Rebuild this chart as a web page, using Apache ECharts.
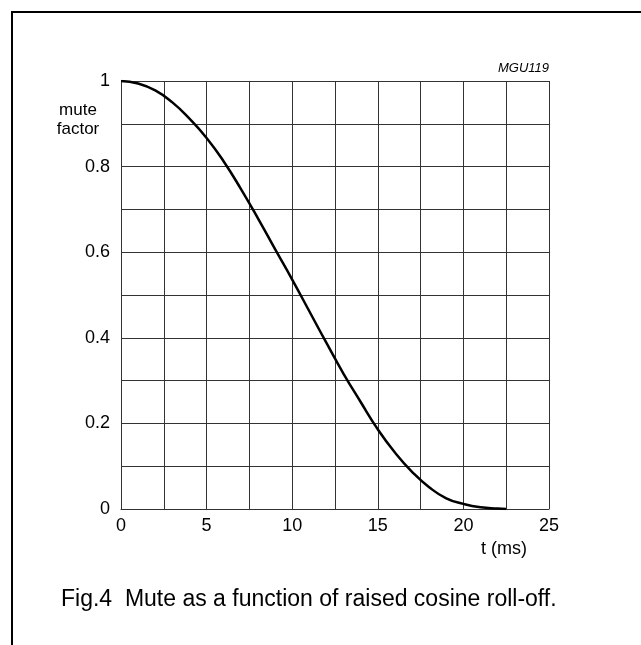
<!DOCTYPE html>
<html>
<head>
<meta charset="utf-8">
<script src="https://cdn.jsdelivr.net/npm/echarts@6/dist/echarts.min.js"></script>
<style>
html,body{margin:0;padding:0;background:#fff;}
#chart{width:641px;height:645px;}
</style>
</head>
<body>
<div id="chart"></div>
<script>
// Data
var timeMs = [0, 1, 2, 3, 4, 5, 6, 7, 8, 9, 10, 11, 12, 13, 14, 15, 16, 17, 18, 19, 20, 21, 22, 22.5];
var muteFactor = [1.000, 0.994, 0.978, 0.950, 0.912, 0.867, 0.812, 0.748, 0.679, 0.607, 0.536, 0.462, 0.388, 0.316, 0.250, 0.186, 0.132, 0.087, 0.051, 0.025, 0.012, 0.004, 0.001, 0.000];
var xTickLabels = ['0', '5', '10', '15', '20', '25'];
var yTickLabels = ['0', '0.2', '0.4', '0.6', '0.8', '1'];
var yAxisTitleLines = ['mute', 'factor'];
var xAxisTitle = 't (ms)';
var figCode = 'MGU119';
var caption = 'Fig.4  Mute as a function of raised cosine roll-off.';

var seriesData = timeMs.map(function (t, i) { return [t, muteFactor[i]]; });
var font = '"Liberation Sans", Arial, sans-serif';
var gridColor = '#333';

var chart = echarts.init(document.getElementById('chart'), null, {renderer: 'canvas'});
chart.setOption({
  animation: false,
  backgroundColor: '#fff',
  grid: {left: 121, right: 92, top: 81, bottom: 136, containLabel: false},
  xAxis: {
    type: 'value', min: 0, max: 25, interval: 2.5,
    axisLine: {show: true, lineStyle: {color: gridColor, width: 1}},
    axisTick: {show: false},
    splitLine: {show: true, lineStyle: {color: gridColor, width: 1}},
    axisLabel: {
      margin: 8, color: '#000', fontFamily: font, fontSize: 18,
      formatter: function (v) {
        var k = Math.round(v / 5);
        if (Math.abs(v - k * 5) < 1e-6) return xTickLabels[k];
        return '';
      }
    }
  },
  yAxis: {
    type: 'value', min: 0, max: 1, interval: 0.1,
    axisLine: {show: true, lineStyle: {color: gridColor, width: 1}},
    axisTick: {show: false},
    splitLine: {show: true, lineStyle: {color: gridColor, width: 1}},
    axisLabel: {
      margin: 11, color: '#000', fontFamily: font, fontSize: 18,
      formatter: function (v) {
        var k = Math.round(v * 10);
        if (k % 2 === 0) return yTickLabels[k / 2];
        return '';
      }
    }
  },
  series: [{
    type: 'line',
    data: seriesData,
    smooth: true,
    showSymbol: false,
    lineStyle: {color: '#000', width: 2.5},
    z: 5
  }],
  graphic: [
    {type: 'line', shape: {x1: 12, y1: 11, x2: 12, y2: 650}, style: {stroke: '#000', lineWidth: 2}},
    {type: 'line', shape: {x1: 11, y1: 12, x2: 650, y2: 12}, style: {stroke: '#000', lineWidth: 2}},
    {type: 'text', x: 78, y: 110, style: {text: yAxisTitleLines[0], font: '17px ' + font, fill: '#000', textAlign: 'center', textVerticalAlign: 'middle'}},
    {type: 'text', x: 78, y: 129, style: {text: yAxisTitleLines[1], font: '17px ' + font, fill: '#000', textAlign: 'center', textVerticalAlign: 'middle'}},
    {type: 'text', x: 549, y: 68, style: {text: figCode, font: 'italic 13px ' + font, fill: '#000', textAlign: 'right', textVerticalAlign: 'middle'}},
    {type: 'text', x: 504, y: 549, style: {text: xAxisTitle, font: '18px ' + font, fill: '#000', textAlign: 'center', textVerticalAlign: 'middle'}},
    {type: 'text', x: 61, y: 600, style: {text: caption, font: '23px ' + font, fill: '#000', textAlign: 'left', textVerticalAlign: 'middle'}}
  ]
});
</script>
</body>
</html>
